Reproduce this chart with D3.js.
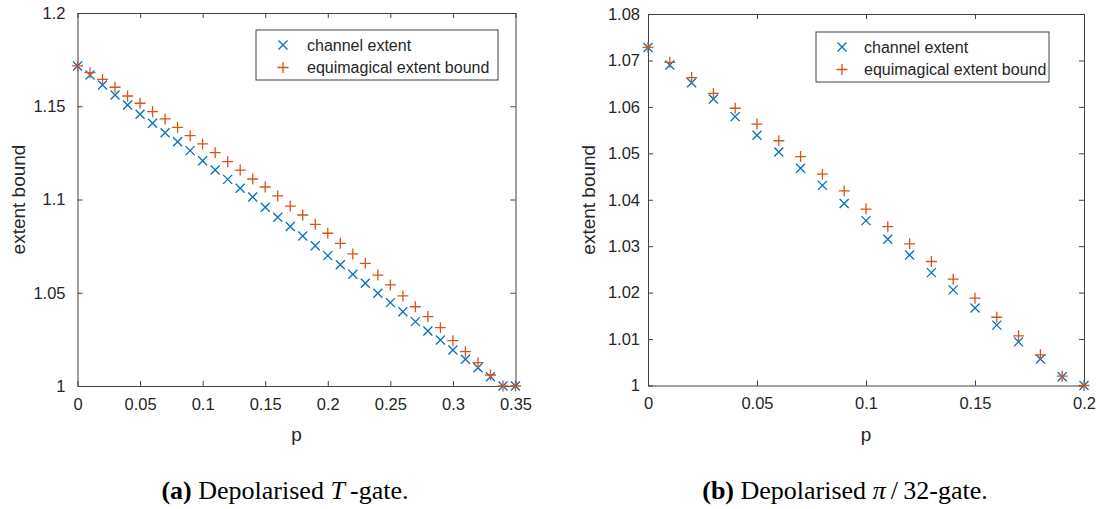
<!DOCTYPE html>
<html>
<head>
<meta charset="utf-8">
<script src="https://cdn.jsdelivr.net/npm/d3@7"></script>
<style>
  html, body { margin: 0; padding: 0; background: #fff; }
  svg { display: block; }
</style>
</head>
<body>
<svg id="fig" width="1101" height="509"></svg>
<script>
// Depolarising noise strength p for each panel
const pT = [0, 0.01, 0.02, 0.03, 0.04, 0.05, 0.06, 0.07, 0.08, 0.09,
            0.10, 0.11, 0.12, 0.13, 0.14, 0.15, 0.16, 0.17, 0.18, 0.19,
            0.20, 0.21, 0.22, 0.23, 0.24, 0.25, 0.26, 0.27, 0.28, 0.29,
            0.30, 0.31, 0.32, 0.33, 0.34, 0.35];
const pPi32 = [0, 0.01, 0.02, 0.03, 0.04, 0.05, 0.06, 0.07, 0.08, 0.09,
               0.10, 0.11, 0.12, 0.13, 0.14, 0.15, 0.16, 0.17, 0.18, 0.19, 0.20];

// (a) depolarised T-gate
const channelT = [1.1716, 1.1668, 1.1614, 1.1560, 1.1507, 1.1457, 1.1409, 1.1358, 1.1310, 1.1262,
                  1.1208, 1.1158, 1.1108, 1.1060, 1.1013, 1.0958, 1.0905, 1.0855, 1.0804, 1.0752,
                  1.0699, 1.0650, 1.0599, 1.0551, 1.0497, 1.0447, 1.0398, 1.0345, 1.0295, 1.0247,
                  1.0193, 1.0143, 1.0098, 1.0050, 1.0000, 1.0000];
const boundT   = [1.1716, 1.1680, 1.1644, 1.1602, 1.1555, 1.1516, 1.1471, 1.1432, 1.1387, 1.1342,
                  1.1298, 1.1251, 1.1203, 1.1158, 1.1110, 1.1067, 1.1019, 1.0965, 1.0917, 1.0867,
                  1.0819, 1.0765, 1.0708, 1.0658, 1.0595, 1.0542, 1.0483, 1.0425, 1.0372, 1.0313,
                  1.0243, 1.0184, 1.0125, 1.0059, 1.0000, 1.0000];

// (b) depolarised pi/32-gate
const channelPi32 = [1.0728, 1.0690, 1.0652, 1.0617, 1.0579, 1.0539, 1.0503, 1.0468, 1.0431, 1.0392,
                     1.0355, 1.0315, 1.0281, 1.0243, 1.0206, 1.0167, 1.0130, 1.0094, 1.0057, 1.0019, 1.0000];
const boundPi32   = [1.0728, 1.0696, 1.0663, 1.0629, 1.0597, 1.0563, 1.0527, 1.0493, 1.0455, 1.0419,
                     1.0380, 1.0342, 1.0305, 1.0267, 1.0229, 1.0188, 1.0147, 1.0107, 1.0066, 1.0020, 1.0000];

// Tick values
const xTicksT = [0, 0.05, 0.1, 0.15, 0.2, 0.25, 0.3, 0.35];
const yTicksT = [1, 1.05, 1.1, 1.15, 1.2];
const xTicksPi32 = [0, 0.05, 0.1, 0.15, 0.2];
const yTicksPi32 = [1, 1.01, 1.02, 1.03, 1.04, 1.05, 1.06, 1.07, 1.08];

const seriesNames = ["channel extent", "equimagical extent bound"];
const xLabel = "p";
const yLabel = "extent bound";

const BLUE = "#0072BD";
const ORANGE = "#D95319";
const AXIS = "#404040";
const TEXT = "#262626";
const SANS = "'Liberation Sans', Arial, Helvetica, sans-serif";
const SERIF = "'Liberation Serif', 'Times New Roman', serif";

const svg = d3.select("#fig");

function panel(cfg) {
  const x = d3.scaleLinear().domain(cfg.xDomain).range([cfg.left, cfg.right]);
  const y = d3.scaleLinear().domain(cfg.yDomain).range([cfg.bottom, cfg.top]);
  const g = svg.append("g");
  const tick = 5;

  // Axes on all four sides (box), ticks pointing inward
  const fmt = d => d3.format("~g")(d);
  const bottomAxis = d3.axisBottom(x).tickValues(cfg.xTicks).tickFormat(fmt).tickSizeInner(-tick).tickSizeOuter(0).tickPadding(12);
  const topAxis = d3.axisTop(x).tickValues(cfg.xTicks).tickFormat("").tickSizeInner(-tick).tickSizeOuter(0);
  const leftAxis = d3.axisLeft(y).tickValues(cfg.yTicks).tickFormat(fmt).tickSizeInner(-tick).tickSizeOuter(0).tickPadding(cfg.yPad);
  const rightAxis = d3.axisRight(y).tickValues(cfg.yTicks).tickFormat("").tickSizeInner(-tick).tickSizeOuter(0);

  const axes = [
    [bottomAxis, `translate(0,${cfg.bottom})`],
    [topAxis, `translate(0,${cfg.top})`],
    [leftAxis, `translate(${cfg.left},0)`],
    [rightAxis, `translate(${cfg.right},0)`]
  ];
  axes.forEach(([ax, tr]) => {
    const a = g.append("g").attr("transform", tr).call(ax);
    a.selectAll("path.domain").attr("stroke", AXIS).attr("stroke-width", 1);
    a.selectAll(".tick line").attr("stroke", AXIS).attr("stroke-width", 1);
    a.selectAll(".tick text").attr("fill", TEXT).style("font-family", SANS).style("font-size", "16.5px");
  });

  // Axis labels
  g.append("text")
    .attr("x", (cfg.left + cfg.right) / 2).attr("y", 441)
    .attr("text-anchor", "middle")
    .style("font-family", SANS).style("font-size", "19px").attr("fill", TEXT)
    .text(xLabel);
  g.append("text")
    .attr("transform", `translate(${cfg.yLabelX},${(cfg.top + cfg.bottom) / 2}) rotate(-90)`)
    .attr("text-anchor", "middle")
    .style("font-family", SANS).style("font-size", "19px").attr("fill", TEXT)
    .text(yLabel);

  // Marker shapes: cross for the channel extent, plus for the bound
  const xs = 4.5, ps = 5.5;
  const crossPath = (cx, cy) => `M${cx - xs},${cy - xs}L${cx + xs},${cy + xs}M${cx - xs},${cy + xs}L${cx + xs},${cy - xs}`;
  const plusPath = (cx, cy) => `M${cx - ps},${cy}L${cx + ps},${cy}M${cx},${cy - ps}L${cx},${cy + ps}`;

  g.append("g").selectAll("path")
    .data(cfg.p.map((p, i) => [p, cfg.channel[i]]))
    .join("path")
    .attr("d", d => crossPath(x(d[0]), y(d[1])))
    .attr("fill", "none").attr("stroke", BLUE).attr("stroke-width", 1.3);

  g.append("g").selectAll("path")
    .data(cfg.p.map((p, i) => [p, cfg.bound[i]]))
    .join("path")
    .attr("d", d => plusPath(x(d[0]), y(d[1])))
    .attr("fill", "none").attr("stroke", ORANGE).attr("stroke-width", 1.3);

  // Legend
  const lg = g.append("g");
  lg.append("rect")
    .attr("x", cfg.legend.x0).attr("y", cfg.legend.y0)
    .attr("width", cfg.legend.x1 - cfg.legend.x0).attr("height", cfg.legend.y1 - cfg.legend.y0)
    .attr("fill", "#fff").attr("stroke", AXIS).attr("stroke-width", 1);
  const rows = [cfg.legend.y0 + 15, cfg.legend.y0 + 37.5];
  lg.append("path").attr("d", crossPath(cfg.legend.mx, rows[0]))
    .attr("fill", "none").attr("stroke", BLUE).attr("stroke-width", 1.3);
  lg.append("path").attr("d", plusPath(cfg.legend.mx, rows[1]))
    .attr("fill", "none").attr("stroke", ORANGE).attr("stroke-width", 1.3);
  seriesNames.forEach((name, i) => {
    lg.append("text")
      .attr("x", cfg.legend.tx).attr("y", rows[i]).attr("dy", "0.35em")
      .style("font-family", SANS).style("font-size", "16px").attr("fill", TEXT)
      .text(name);
  });

  // Caption
  const cap = svg.append("text")
    .attr("x", cfg.capX).attr("y", 499)
    .attr("text-anchor", "middle")
    .style("font-family", SERIF).style("font-size", "26px").attr("fill", "#000");
  cfg.caption.forEach(part => {
    const t = cap.append("tspan").text(part.t);
    if (part.b) t.style("font-weight", "bold");
    if (part.i) t.style("font-style", "italic");
  });
}

panel({
  p: pT, channel: channelT, bound: boundT,
  xDomain: [0, 0.35], yDomain: [1, 1.2],
  xTicks: xTicksT, yTicks: yTicksT,
  left: 77.5, right: 515.5, top: 13, bottom: 386,
  yPad: 12, yLabelX: 25,
  legend: { x0: 256, y0: 30, x1: 498, y1: 80, mx: 283, tx: 307 },
  capX: 285,
  caption: [{ t: "(a)", b: true }, { t: " Depolarised " }, { t: "T", i: true }, { t: "\u2009-gate." }]
});

panel({
  p: pPi32, channel: channelPi32, bound: boundPi32,
  xDomain: [0, 0.2], yDomain: [1, 1.08],
  xTicks: xTicksPi32, yTicks: yTicksPi32,
  left: 648, right: 1084, top: 14, bottom: 385.5,
  yPad: 8, yLabelX: 595,
  legend: { x0: 816, y0: 32, x1: 1049, y1: 82, mx: 842, tx: 864 },
  capX: 845,
  caption: [{ t: "(b)", b: true }, { t: " Depolarised " }, { t: "π", i: true }, { t: "\u2009/\u200932-gate." }]
});
</script>
</body>
</html>
